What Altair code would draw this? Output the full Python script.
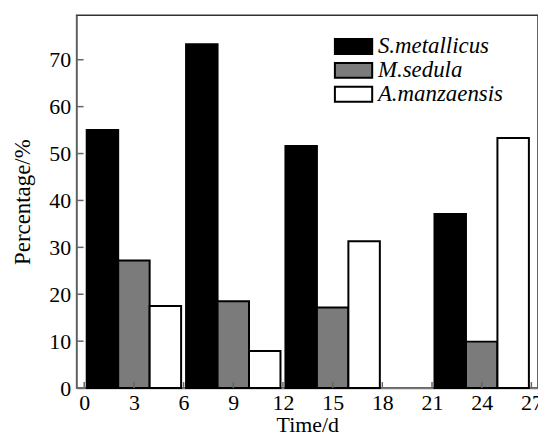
import altair as alt
import pandas as pd

# ---- data ----
times = [3, 9, 15, 24]
species = ["S.metallicus", "M.sedula", "A.manzaensis"]
s_metallicus = [55.0, 73.3, 51.6, 37.1]
m_sedula = [27.2, 18.5, 17.2, 9.9]
a_manzaensis = [17.5, 7.9, 31.3, 53.3]
offsets = [-1.9, 0.0, 1.9]      # day offset of each species' bar within a group
bar_width = 1.9                  # in days
fill_colors = ["#000000", "#7b7b7b", "#ffffff"]
x_ticks = [0, 3, 6, 9, 12, 15, 18, 21, 24, 27]
y_ticks = [0, 10, 20, 30, 40, 50, 60, 70]

rows = []
for name, vals, off in zip(species, [s_metallicus, m_sedula, a_manzaensis], offsets):
    for t, v in zip(times, vals):
        rows.append({"time": t, "species": name, "value": v, "off": off})
df = pd.DataFrame(rows)

W, H = 464, 375
FONT = "Liberation Serif"

xscale = alt.Scale(domain=[-0.46, 27.4], nice=False, zero=False)
yscale = alt.Scale(domain=[0, 79.5], nice=False, zero=False)

bars = alt.Chart(df).transform_calculate(
    x0=f"datum.time + datum.off - {bar_width / 2}",
    x1=f"datum.time + datum.off + {bar_width / 2}",
).mark_bar(stroke="black", strokeWidth=2, opacity=1).encode(
    x=alt.X("x0:Q", scale=xscale,
            axis=alt.Axis(values=x_ticks, title="Time/d", grid=False, ticks=False,
                          labelFontSize=22, titleFontSize=22, labelPadding=5,
                          titlePadding=1, domainColor="#777", domainWidth=1.5,
                          labelColor="black", titleColor="black",
                          titleFontWeight="normal", labelFont=FONT, titleFont=FONT,
                          labelFlush=False)),
    x2="x1:Q",
    y=alt.Y("value:Q", scale=yscale,
            axis=alt.Axis(values=y_ticks, title="Percentage/%", grid=False, ticks=False,
                          labelFontSize=22, titleFontSize=23, labelPadding=6,
                          titlePadding=14, domainColor="#777", domainWidth=1.5,
                          labelColor="black", titleColor="black",
                          titleFontWeight="normal", labelFont=FONT, titleFont=FONT)),
    y2=alt.datum(0),
    fill=alt.Fill("species:N",
                  scale=alt.Scale(domain=species, range=fill_colors),
                  sort=species,
                  legend=alt.Legend(orient="none", legendX=256, legendY=20, title=None,
                                    symbolType="M-2.5,-1H2.5V1H-2.5Z", symbolSize=225,
                                    symbolOffset=11, symbolStrokeColor="black",
                                    symbolStrokeWidth=2, symbolOpacity=1,
                                    labelFontSize=23, labelFontStyle="italic",
                                    labelFont=FONT, labelColor="black", labelOffset=13,
                                    padding=0, rowPadding=0)),
)

ytick_df = pd.DataFrame({"v": y_ticks})
xtick_df = pd.DataFrame({"v": x_ticks})

yticks = alt.Chart(ytick_df).mark_rule(color="#666", strokeWidth=1.5).encode(
    y=alt.Y("v:Q", scale=yscale), x=alt.value(0), x2=alt.value(7)
)
xticks = alt.Chart(xtick_df).mark_rule(color="#666", strokeWidth=1.5).encode(
    x=alt.X("v:Q", scale=xscale), y=alt.value(H), y2=alt.value(H - 6)
)

chart = alt.layer(bars, yticks, xticks).properties(
    width=W, height=H,
    autosize=alt.AutoSizeParams(type="none"),
    padding={"left": 69, "top": 6, "right": 0, "bottom": 48},
).configure_view(stroke="#333", strokeWidth=1.5)

chart.save("out.html", embed_options={"renderer": "svg", "actions": False})
